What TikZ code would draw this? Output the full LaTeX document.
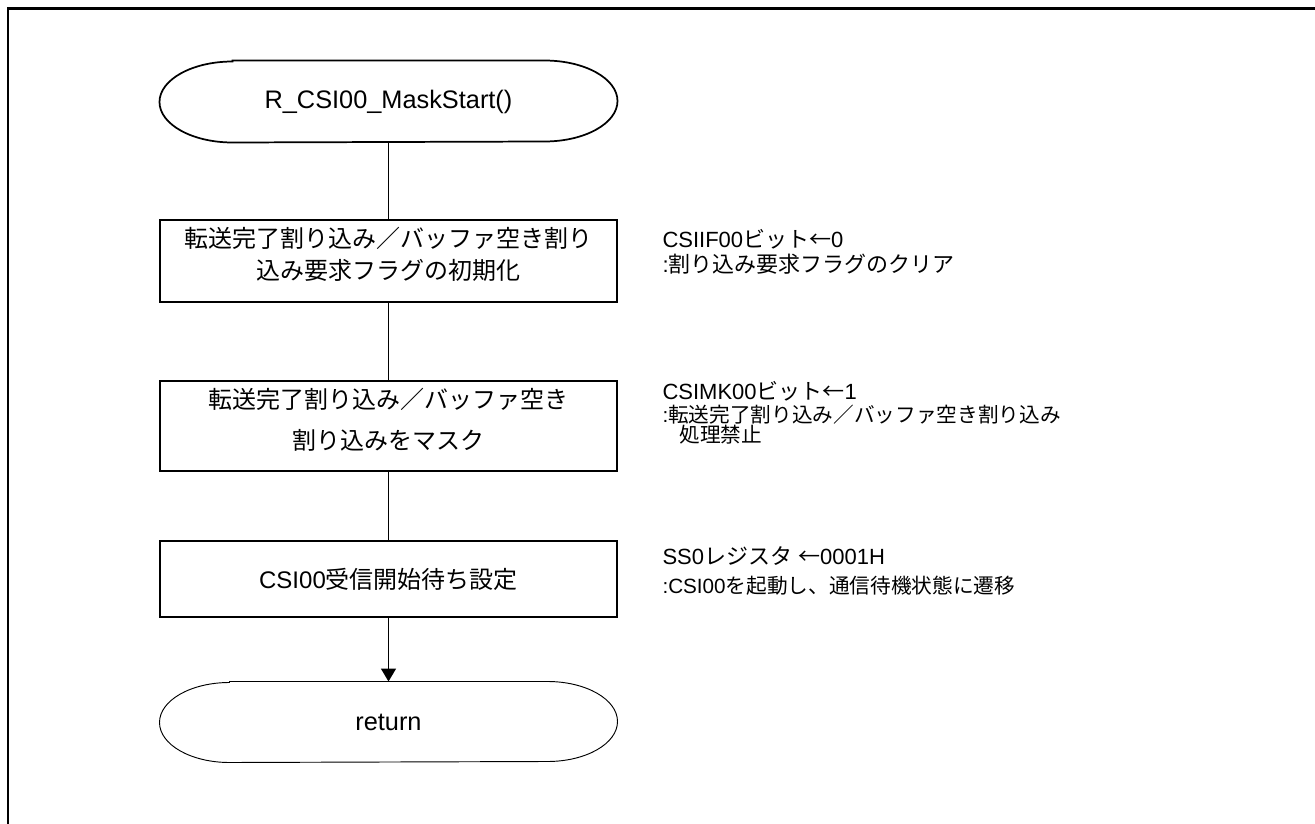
\documentclass[tikz,border=0pt]{standalone}
\usepackage{fontspec}
\setmainfont{Liberation Sans}
\newfontfamily\jp{Noto Sans CJK JP}
\usetikzlibrary{arrows.meta}

\tikzset{every picture/.style={line width=0.75pt}}
\tikzset{
  proc/.style={draw, line width=1.2pt, minimum width=342.75pt, inner sep=0pt, align=center, font=\fontsize{18}{24}\selectfont},
  term/.style={minimum width=342.75pt, minimum height=60pt, inner sep=0pt, font=\fontsize{19}{24}\selectfont},
  note/.style={anchor=north west, inner sep=0pt, align=left, font=\fontsize{15.5}{19}\selectfont},
  flow/.style={line width=1.3pt},
}
\newcommand{\notebig}{\fontsize{16.5}{19}\selectfont}

\begin{document}
\begin{tikzpicture}[x=0.75pt,y=0.75pt,yscale=-1,xscale=1]
\useasboundingbox (0,0) rectangle (1315,824);
%Frame
\draw [line width=2.2pt] (8,824) -- (8,8.5) -- (1315,8.5) ;
% Terminal: start
\node [term, minimum height=60.75pt] (st) at (388.5,101.5) {R\_CSI00\_MaskStart()};
\draw [line width=1.3pt] ([xshift=54.75pt]st.north west) -- ([xshift=-54.75pt]st.north east) arc [start angle=-90, end angle=90, x radius=54.75pt, y radius=30.375pt] -- ([xshift=54.75pt]st.south west) arc [start angle=90, end angle=270, x radius=54.75pt, y radius=30.375pt] -- cycle ;
% Process boxes
\node [proc, minimum height=61.5pt, text depth=11pt, font=\fontsize{18}{24}\selectfont\jp] (b1) at (388.5,261) {転送完了割り込み／バッファ空き割り\\込み要求フラグの初期化};
\node [proc, minimum height=67.5pt, text depth=11pt, font=\fontsize{18}{24}\selectfont\jp] (b2) at (388.5,426) {転送完了割り込み／バッファ空き\\[7pt]割り込みをマスク};
\node [proc, minimum height=57pt] (b3) at (388.5,579) {CSI00{\jp 受信開始待ち設定}};
% Terminal: return
\node [term] (rt) at (388.5,722) {return};
\draw [line width=0.7pt] ([xshift=52.5pt]rt.north west) -- ([xshift=-52.5pt]rt.north east) arc [start angle=-90, end angle=90, x radius=52.5pt, y radius=30pt] -- ([xshift=52.5pt]rt.south west) arc [start angle=90, end angle=270, x radius=52.5pt, y radius=30pt] -- cycle ;
% Connectors
\draw [flow] (st) -- (b1) ;
\draw [flow] (b1) -- (b2) ;
\draw [flow] (b2) -- (b3) ;
\draw [flow, -{Triangle[length=9.75pt, width=11.25pt]}] (b3) -- (rt) ;
% Notes
\node [note] (n1) at (662,229) {{\notebig CSIIF00{\jp ビット←}0}\\{\notebig :{\jp 割り込み要求フラグのクリア}}};
\node [note] (n2) at (662,381) {{\notebig CSIMK00{\jp ビット←}1}\\[-1.5pt]:{\jp 転送完了割り込み／バッファ空き割り込み}\\[-4pt]\hspace*{12.75pt}{\jp 処理禁止}};
\node [note] (n3) at (662,546) {{\notebig SS0{\jp レジスタ} {\jp ←}0001H}\\[2.5pt]:CSI00{\jp を起動し、通信待機状態に遷移}};
\end{tikzpicture}
\end{document}
